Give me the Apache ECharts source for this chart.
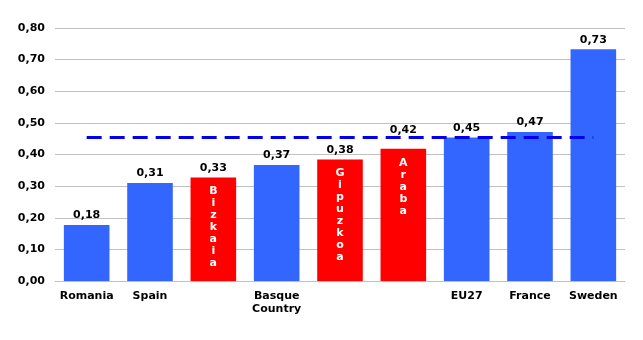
<!DOCTYPE html>
<html><head><meta charset="utf-8">
<script src="https://cdn.jsdelivr.net/npm/echarts@6/dist/echarts.min.js"></script>
<style>html,body{margin:0;padding:0;background:#fff}#c{width:643px;height:340px}</style>
</head><body><div id="c"></div>
<script>
var categories = ['Romania','Spain','Bizkaia','Basque\nCountry','Gipuzkoa','Araba','EU27','France','Sweden'];
var axisLabels = ['Romania','Spain','','Basque\nCountry','','','EU27','France','Sweden'];
var values = [0.177, 0.31, 0.327, 0.367, 0.384, 0.418, 0.454, 0.471, 0.733];
var highlighted = [false, false, true, false, true, true, false, false, false];
var averageValue = 0.456;
var yTicks = [0, 0.1, 0.2, 0.3, 0.4, 0.5, 0.6, 0.7, 0.8];

var font = 'DejaVu Sans';
var chart = echarts.init(document.getElementById('c'));
function fmt(v){ return v.toFixed(2).replace('.', ','); }
chart.setOption({
  animation: false,
  backgroundColor: '#fff',
  grid: { left: 55, right: 18, top: 28, bottom: 59 },
  xAxis: {
    type: 'category',
    data: categories,
    axisLine: { lineStyle: { color: '#c0c0c0' } },
    axisTick: { show: false },
    axisLabel: {
      interval: 0, margin: 9,
      fontFamily: font, fontWeight: 'bold', fontSize: 11, color: '#000', lineHeight: 13,
      formatter: function(v, i){ return axisLabels[i]; }
    }
  },
  yAxis: {
    type: 'value', min: 0, max: 0.8, interval: 0.1,
    axisLine: { show: false }, axisTick: { show: false },
    splitLine: { lineStyle: { color: '#c0c0c0', width: 1 } },
    axisLabel: { margin: 10, fontFamily: font, fontWeight: 'bold', fontSize: 11, color: '#000',
      formatter: function(v){ return fmt(v); } }
  },
  series: [
    {
      type: 'bar',
      barCategoryGap: '28%',
      data: values.map(function(v, i){
        var item = { value: v, itemStyle: { color: highlighted[i] ? '#FF0000' : '#3366FF' } };
        if (i === 5) item.label = { distance: 13 };
        return item;
      }),
      label: { show: true, position: 'top', distance: 4, fontFamily: font, fontWeight: 'bold', fontSize: 11, color: '#000',
        formatter: function(p){ return fmt(p.value); } },
      markLine: {
        silent: true, symbol: 'none',
        label: { show: false },
        lineStyle: { color: '#0000EE', width: 3, type: [15, 8] },
        data: [[ { coord: [categories[0], averageValue] }, { coord: [categories[8], averageValue] } ]]
      }
    },
    {
      type: 'bar',
      barGap: '-100%',
      barCategoryGap: '28%',
      silent: true,
      itemStyle: { color: 'rgba(0,0,0,0)' },
      data: values.map(function(v, i){ return highlighted[i] ? v : null; }),
      label: { show: true, position: 'insideTop', distance: 8, fontFamily: font, fontWeight: 'bold', fontSize: 11, color: '#fff', lineHeight: 12, align: 'center',
        formatter: function(p){ return categories[p.dataIndex].split('').join('\n'); } }
    }
  ]
});
</script></body></html>
